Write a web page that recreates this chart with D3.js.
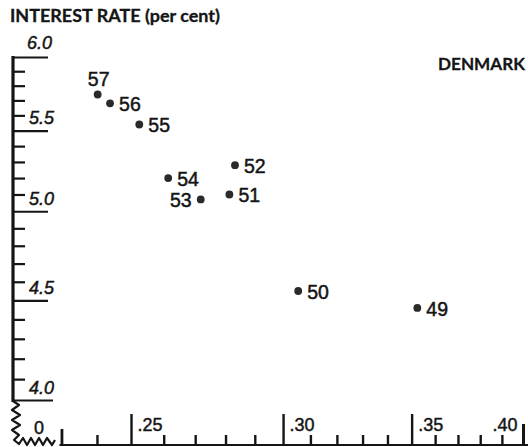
<!DOCTYPE html>
<html>
<head>
<meta charset="utf-8">
<script src="https://cdn.jsdelivr.net/npm/d3@7"></script>
<style>
  html, body { margin: 0; padding: 0; background: #fff; }
  svg { display: block; }
  text { fill: #151515; }
</style>
</head>
<body>
<svg id="chart" width="528" height="447"></svg>
<script>
// ---- data ----
const years   = ["57", "56", "55", "54", "53", "52", "51", "50", "49"];
const xValues = [0.2402, 0.2438, 0.2525, 0.2614, 0.2718, 0.2832, 0.2813, 0.3055, 0.3524];
const yValues = [5.74, 5.68, 5.54, 5.20, 5.07, 5.28, 5.10, 4.55, 4.46];
const labelSide = ["top", "right", "right", "right", "left", "right", "right", "right", "right"];

const yMajorTicks = [4.0, 4.5, 5.0, 5.5, 6.0];
const yMinorTicks = [4.1,4.2,4.3,4.4,4.6,4.7,4.8,4.9,5.1,5.2,5.3,5.4,5.6,5.7,5.8,5.9];
const xMajorTicks = [0.25, 0.30, 0.35, 0.40];
const xMinorTicks = [0.23,0.24,0.26,0.27,0.28,0.29,0.31,0.32,0.33,0.34,0.36,0.37,0.38,0.39];
const xTickLabels = [".25", ".30", ".35", ".40"];
const yTickLabels = ["4.0", "4.5", "5.0", "5.5", "6.0"];

const title = "INTEREST RATE (per cent)";
const country = "DENMARK";

// ---- layout ----
const svg = d3.select("#chart");
const axisX0 = 13;      // y-axis line position
const baseY = 445;      // x-axis baseline

const x = d3.scaleLog().domain([0.25, 0.40]).range([131, 523]);
const y = d3.scaleLog().domain([4.0, 6.0]).range([400, 57]);

const ink = "#151515";
const fontNum = "'Liberation Sans', Arial, sans-serif";

// title & country
svg.append("text").attr("x", 10).attr("y", 22)
  .attr("font-family", "Lato, 'Liberation Sans', sans-serif")
  .attr("font-weight", "bold").attr("font-size", 16.5)
  .attr("stroke", ink).attr("stroke-width", 0.3)
  .attr("textLength", 210).attr("lengthAdjust", "spacingAndGlyphs")
  .text(title);
svg.append("text").attr("x", 438).attr("y", 70)
  .attr("font-family", "Lato, 'Liberation Sans', sans-serif")
  .attr("font-weight", "bold").attr("font-size", 17.5)
  .attr("stroke", ink).attr("stroke-width", 0.3)
  .attr("textLength", 87).attr("lengthAdjust", "spacingAndGlyphs")
  .text(country);

// ---- y axis ----
const yMinor = svg.append("g").attr("transform", `translate(${axisX0},0)`)
  .call(d3.axisRight(y).tickValues(yMinorTicks).tickSize(12).tickFormat(""));
const yMajor = svg.append("g").attr("transform", `translate(${axisX0},0)`)
  .call(d3.axisRight(y).tickValues(yMajorTicks).tickSize(35)
        .tickFormat((d, i) => yTickLabels[i]));
[yMinor, yMajor].forEach(g => {
  g.select(".domain").remove();
  g.selectAll(".tick line").attr("stroke", ink).attr("stroke-width", 2.2);
});
yMajor.selectAll(".tick text")
  .attr("x", 16).attr("dy", -7).attr("text-anchor", "start")
  .attr("dominant-baseline", "auto")
  .attr("font-family", fontNum)
  .attr("font-style", "italic")
  .attr("font-size", 18).attr("fill", ink)
  .attr("stroke", ink).attr("stroke-width", 0.45);
yMajor.selectAll(".tick").filter(d => d === 4.0).select("line").attr("x2", 40);
yMajor.selectAll(".tick").filter(d => d === 6.0).select("text").attr("x", 14).attr("dy", -9);

// y axis line
svg.append("line").attr("x1", axisX0).attr("x2", axisX0)
  .attr("y1", y(6.0) - 1).attr("y2", y(4.0) + 2)
  .attr("stroke", ink).attr("stroke-width", 3.2);

// break symbol (zigzags)
const zig = [[13,401],[19,405],[12,410],[20,415],[12,420],[20,425],[12,430],[19,435],[14,440],
             [19,444],[23,438],[27,445],[31,438],[35,445],[39,438],[43,445],[47,438],[52,445],[55,440]];
svg.append("path").attr("d", d3.line()(zig))
  .attr("fill", "none").attr("stroke", ink).attr("stroke-width", 2.2)
  .attr("stroke-linejoin", "round");

// "0" label
svg.append("text").attr("x", 34).attr("y", 434)
  .attr("font-family", fontNum)
  .attr("stroke", ink).attr("stroke-width", 0.45)
  .attr("font-size", 18).text("0");

// ---- x axis ----
const xMinor = svg.append("g").attr("transform", `translate(0,${baseY})`)
  .call(d3.axisTop(x).tickValues(xMinorTicks).tickSize(10).tickFormat(""));
const xMajor = svg.append("g").attr("transform", `translate(0,${baseY})`)
  .call(d3.axisTop(x).tickValues(xMajorTicks).tickSize(31)
        .tickFormat((d, i) => xTickLabels[i]));
[xMinor, xMajor].forEach(g => {
  g.select(".domain").remove();
  g.selectAll(".tick line").attr("stroke", ink).attr("stroke-width", 2.4);
});
xMinor.selectAll(".tick").filter(d => d === 0.23).select("line").attr("y2", -16).attr("stroke-width", 2.8);
xMajor.selectAll(".tick").filter(d => d === 0.40).select("line").attr("y2", -21).attr("stroke-width", 3);
xMajor.selectAll(".tick text")
  .attr("x", 6).attr("y", -14).attr("dy", 0).attr("text-anchor", "start")
  .attr("font-family", fontNum)
  .attr("font-size", 18).attr("fill", ink)
  .attr("stroke", ink).attr("stroke-width", 0.45);
xMajor.selectAll(".tick").filter(d => d === 0.40).select("text").attr("x", -31);

// x baseline
svg.append("line").attr("x1", x(0.23) - 2).attr("x2", 528)
  .attr("y1", baseY).attr("y2", baseY)
  .attr("stroke", ink).attr("stroke-width", 2);

// ---- points ----
const pts = years.map((yr, i) => ({ yr, xv: xValues[i], yv: yValues[i], side: labelSide[i] }));

svg.append("g").selectAll("circle").data(pts).join("circle")
  .attr("cx", d => x(d.xv)).attr("cy", d => y(d.yv)).attr("r", 3.9)
  .attr("fill", "#2a2a2a");

svg.append("g").selectAll("text").data(pts).join("text")
  .attr("x", d => d.side === "right" ? x(d.xv) + 9 : d.side === "left" ? x(d.xv) - 9 : x(d.xv) + 1)
  .attr("y", d => d.side === "top" ? y(d.yv) - 8 : y(d.yv) + 8)
  .attr("text-anchor", d => d.side === "right" ? "start" : d.side === "left" ? "end" : "middle")
  .attr("font-family", fontNum)
  .attr("font-size", 19.5)
  .attr("stroke", ink).attr("stroke-width", 0.5)
  .text(d => d.yr);
</script>
</body>
</html>
